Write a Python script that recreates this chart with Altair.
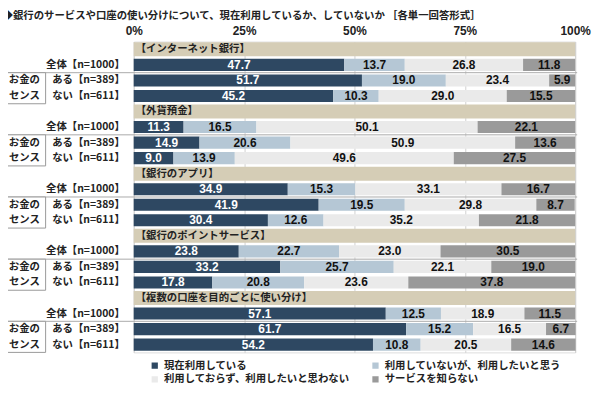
import altair as alt
import pandas as pd

title = "◆銀行のサービスや口座の使い分けについて、現在利用しているか、していないか ［各単一回答形式］"
items = ["【インターネット銀行】", "【外貨預金】", "【銀行のアプリ】",
         "【銀行のポイントサービス】", "【複数の口座を目的ごとに使い分け】"]
groups = ["全体【n=1000】", "ある【n=389】", "ない【n=611】"]
cats = ["現在利用している", "利用していないが、利用したいと思う",
        "利用しておらず、利用したいと思わない", "サービスを知らない"]
colors = ["#2E4862", "#B5C7D5", "#EAEAEA", "#9A9A9A"]

net_bank = [[47.7, 13.7, 26.8, 11.8], [51.7, 19.0, 23.4, 5.9], [45.2, 10.3, 29.0, 15.5]]
fx_deposit = [[11.3, 16.5, 50.1, 22.1], [14.9, 20.6, 50.9, 13.6], [9.0, 13.9, 49.6, 27.5]]
bank_app = [[34.9, 15.3, 33.1, 16.7], [41.9, 19.5, 29.8, 8.7], [30.4, 12.6, 35.2, 21.8]]
point_service = [[23.8, 22.7, 23.0, 30.5], [33.2, 25.7, 22.1, 19.0], [17.8, 20.8, 23.6, 37.8]]
multi_account = [[57.1, 12.5, 18.9, 11.5], [61.7, 15.2, 16.5, 6.7], [54.2, 10.8, 20.5, 14.6]]
series = [net_bank, fx_deposit, bank_app, point_service, multi_account]

box_lines = ["お金の", "センス"]
ticks = [0, 25, 50, 75, 100]

JP = "'Noto Sans CJK JP', sans-serif"
NUM = "'Liberation Sans', 'Noto Sans CJK JP', sans-serif"

rows, heads, labels, boxes, boxtext = [], [], [], [], []
for g, (item, data) in enumerate(zip(items, series)):
    h = 4 * g
    heads.append({"row": h, "label": item, "lo": 0, "hi": 100})
    boxes.append({"row": h + 2, "row_end": h + 3})
    for j, grp in enumerate(groups):
        r = h + 1 + j
        labels.append({"row": r, "label": grp})
        for k, cat in enumerate(cats):
            rows.append({"row": r, "cat": cat, "k": k, "value": data[j][k]})
    for j, t in enumerate(box_lines):
        boxtext.append({"row": h + 2 + j, "label": t})

df = pd.DataFrame(rows)
dh = pd.DataFrame(heads)
dl = pd.DataFrame(labels)
db = pd.DataFrame(boxes)
dbt = pd.DataFrame(boxtext)

# legend fills column by column, so list entries column-wise
legend_order = [0, 2, 1, 3]
leg_domain = [cats[i] for i in legend_order]
leg_range = [colors[i] for i in legend_order]

yscale = alt.Scale(domain=[-0.5, 19.5], reverse=True, nice=False, zero=False)
xscale = alt.Scale(domain=[0, 100], nice=False)

xaxis = alt.Axis(orient="top", values=ticks, labelExpr="datum.value + '%'",
                 domain=False, ticks=False, labelPadding=4, labelFlush=False,
                 labelFont=NUM, labelFontSize=12, labelFontWeight="bold",
                 labelColor="#222222", grid=True, gridColor="#D0D0D0", title=None)

stacked = alt.Chart(df).transform_stack(
    stack="value", groupby=["row"], sort=[alt.SortField("k")], as_=["x0", "x1"]
).transform_calculate(
    ya="datum.row - 0.39", yb="datum.row + 0.39", xm="(datum.x0 + datum.x1) / 2"
)

bars = stacked.mark_rect().encode(
    x=alt.X("x0:Q", scale=xscale, axis=xaxis),
    x2="x1:Q",
    y=alt.Y("ya:Q", scale=yscale, axis=None),
    y2="yb:Q",
    color=alt.Color("cat:N", scale=alt.Scale(domain=leg_domain, range=leg_range),
                    legend=alt.Legend(title=None, orient="none", legendX=16, legendY=322,
                                      columns=2, columnPadding=20, rowPadding=3,
                                      symbolType="square", symbolSize=40,
                                      symbolStrokeWidth=0, labelFont=JP,
                                      labelFontSize=10.5, labelFontWeight="bold",
                                      labelColor="#222222", labelLimit=300)),
)

values = stacked.mark_text(font=NUM, fontSize=12, fontWeight="bold").encode(
    x=alt.X("xm:Q", scale=xscale),
    y=alt.Y("row:Q", scale=yscale),
    text=alt.Text("value:Q", format=".1f"),
    color=alt.condition("datum.k == 0", alt.value("white"), alt.value("#111111")),
)

hbase = alt.Chart(dh).transform_calculate(ya="datum.row - 0.45", yb="datum.row + 0.45")
hband = hbase.mark_rect(color="#D5CDB6").encode(
    x=alt.X("lo:Q", scale=xscale), x2="hi:Q",
    y=alt.Y("ya:Q", scale=yscale), y2="yb:Q",
)
htext = hbase.mark_text(align="left", dx=2, font=JP, fontSize=10.5, fontWeight="bold",
                        color="#222222").encode(
    x=alt.X("lo:Q", scale=xscale), y=alt.Y("row:Q", scale=yscale), text="label:N"
)

sep = alt.Chart(db).transform_calculate(ys="datum.row - 0.5").mark_rule(
    color="#AAAAAA", strokeWidth=1
).encode(y=alt.Y("ys:Q", scale=yscale), x=alt.value(-135), x2=alt.value(448))

box = alt.Chart(db).transform_calculate(
    ya="datum.row - 0.5", yb="datum.row_end + 0.5"
).mark_rect(fill="white", stroke="#999999", strokeWidth=1).encode(
    y=alt.Y("ya:Q", scale=yscale), y2="yb:Q", x=alt.value(-132), x2=alt.value(-89)
)

btext = alt.Chart(dbt).mark_text(font=JP, fontSize=10.5, fontWeight="bold",
                                 color="#222222").encode(
    y=alt.Y("row:Q", scale=yscale), x=alt.value(-110.5), text="label:N"
)

ltext = alt.Chart(dl).mark_text(align="right", font=JP, fontSize=10.5, fontWeight="bold",
                                color="#222222").encode(
    y=alt.Y("row:Q", scale=yscale), x=alt.value(-9), text="label:N"
)

chart = alt.layer(bars, hband, values, htext, sep, box, btext, ltext).properties(
    width=446, height=314,
    autosize=alt.AutoSizeParams(type="none"),
    padding={"left": 127, "top": 32, "right": 17, "bottom": 31},
    title=alt.TitleParams(title, anchor="start", dx=3, font=JP, fontSize=10.5,
                          fontWeight="bold", color="#222222", offset=3),
).configure_view(stroke="#C4C4C4", strokeWidth=1).configure(background="white")

chart.save("out.html", embed_options={"renderer": "svg", "actions": False})
